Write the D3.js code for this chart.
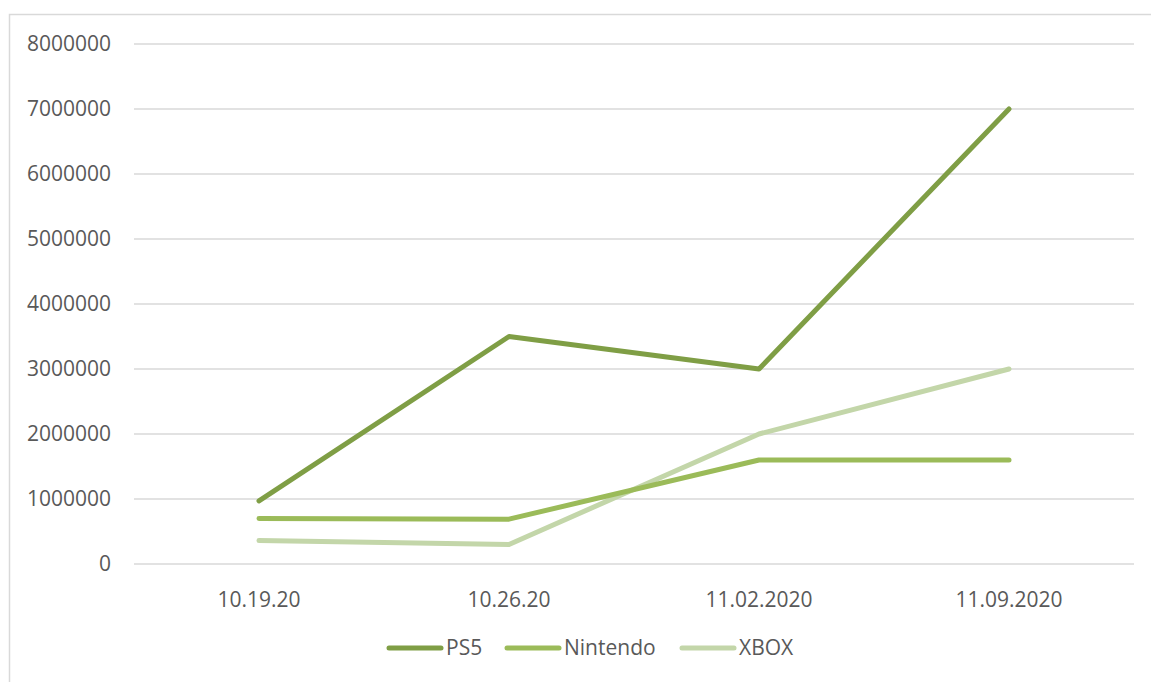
<!DOCTYPE html>
<meta charset="utf-8">
<style>
body { margin: 0; background: #fff; }
svg { display: block; font-family: 'Open Sans', sans-serif; }
.grid line { stroke: #d9d9d9; stroke-width: 1.5; }
.lbl { fill: #595959; font-size: 21px; }
.series { fill: none; stroke-width: 5; stroke-linecap: round; stroke-linejoin: round; }
</style>
<body>
<script src="https://cdn.jsdelivr.net/npm/d3@7"></script>
<script>
var dates = ['10.19.20', '10.26.20', '11.02.2020', '11.09.2020'];
var ps5 = [970000, 3500000, 3000000, 7000000];
var nintendo = [700000, 690000, 1600000, 1600000];
var xbox = [360000, 300000, 2000000, 3000000];
var yTicks = [0, 1000000, 2000000, 3000000, 4000000, 5000000, 6000000, 7000000, 8000000];

var series = [
  {name: 'PS5', values: ps5, color: '#7f9e45'},
  {name: 'Nintendo', values: nintendo, color: '#9bbb59'},
  {name: 'XBOX', values: xbox, color: '#c3d6a9'}
];

var W = 1151, H = 682;
var svg = d3.select('body').append('svg')
  .attr('width', W).attr('height', H);

// chart frame
svg.append('rect')
  .attr('x', 9.5).attr('y', 14.5)
  .attr('width', W + 10).attr('height', H + 10)
  .attr('fill', 'none').attr('stroke', '#d9d9d9').attr('stroke-width', 1.5);

var x = d3.scaleBand().domain(dates).range([134, 1134]);
var y = d3.scaleLinear().domain([0, 8000000]).range([564, 44]);

var grid = svg.append('g').attr('class', 'grid');
grid.selectAll('line').data(yTicks).enter().append('line')
  .attr('x1', 134).attr('x2', 1134)
  .attr('y1', function(d) { return y(d); })
  .attr('y2', function(d) { return y(d); });

svg.selectAll('.ylbl').data(yTicks).enter().append('text')
  .attr('class', 'lbl')
  .attr('x', 111)
  .attr('y', function(d) { return y(d); })
  .attr('dy', '0.35em')
  .attr('text-anchor', 'end')
  .text(function(d) { return d; });

svg.selectAll('.xlbl').data(dates).enter().append('text')
  .attr('class', 'lbl')
  .attr('x', function(d) { return x(d) + x.bandwidth() / 2; })
  .attr('y', 600)
  .attr('dy', '0.35em')
  .attr('text-anchor', 'middle')
  .text(function(d) { return d; });

var line = d3.line()
  .x(function(d, i) { return x(dates[i]) + x.bandwidth() / 2; })
  .y(function(d) { return y(d); });

svg.selectAll('.series').data(series.slice().reverse()).enter().append('path')
  .attr('class', 'series')
  .attr('stroke', function(d) { return d.color; })
  .attr('d', function(d) { return line(d.values); });

// legend
var legX = [387, 505, 680];
var leg = svg.selectAll('.leg').data(series).enter().append('g')
  .attr('transform', function(d, i) { return 'translate(' + legX[i] + ',648)'; });
leg.append('line')
  .attr('x1', 2).attr('x2', 54)
  .attr('stroke', function(d) { return d.color; })
  .attr('stroke-width', 5).attr('stroke-linecap', 'round');
leg.append('text')
  .attr('class', 'lbl')
  .attr('x', 59).attr('dy', '0.35em')
  .text(function(d) { return d.name; });
</script>
</body>
